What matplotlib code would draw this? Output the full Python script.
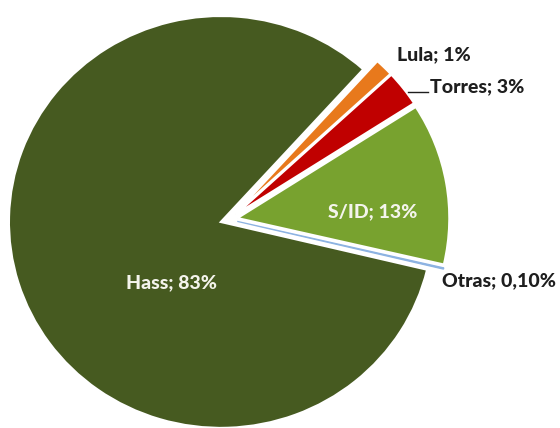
import matplotlib
matplotlib.use("Agg")
import matplotlib.pyplot as plt

labels = ["Lula", "Torres", "S/ID", "Otras", "Hass"]
values = [1.4, 2.8, 12.7, 0.1, 83.0]
pct_text = ["1%", "3%", "13%", "0,10%", "83%"]
colors = ["#E8791C", "#C00000", "#78A22F", "#8DB3E2", "#465A20"]
explode = [0.04, 0.04, 0.04, 0.04, 0.04]

W, H = 560, 428
cx, cy, RX, RY = 229, 219.5, 212, 206

fig = plt.figure(figsize=(W / 100, H / 100), dpi=100)
ax = fig.add_axes([0, 0, 1, 1])
wedges, _ = ax.pie(values, colors=colors, explode=explode, startangle=47.8,
                   counterclock=False, radius=1.0,
                   wedgeprops=dict(edgecolor="white", linewidth=1.6))
wedges[3].set_edgecolor(colors[3])
wedges[3].set_linewidth(0.9)
ax.set_aspect("auto")
ax.set_xlim(-cx / RX, (W - cx) / RX)
ax.set_ylim(-(H - cy) / RY, cy / RY)
ax.axis("off")

def px(x, y):
    return ((x - cx) / RX, (cy - y) / RY)

font = dict(family=["Lato", "DejaVu Sans"], fontweight="black", fontsize=14.0)
lab = {l: f"{l}; {p}" for l, p in zip(labels, pct_text)}
dark = "#1E1E1E"

ax.text(*px(172, 283), lab["Hass"], color="#F4F4EC", ha="center", va="center", **font)
ax.text(*px(373, 212), lab["S/ID"], color="#F4F4EC", ha="center", va="center", **font)
ax.text(*px(397, 55), lab["Lula"], color=dark, ha="left", va="center", **font)
ax.text(*px(430, 87), lab["Torres"], color=dark, ha="left", va="center", **font)
ax.text(*px(442, 281), lab["Otras"], color=dark, ha="left", va="center", **font)
x0, y0 = px(408, 92)
x1, y1 = px(428, 92)
ax.plot([x0, x1], [y0, y1], color=dark, lw=1)

fig.savefig("out.png", dpi=100)
